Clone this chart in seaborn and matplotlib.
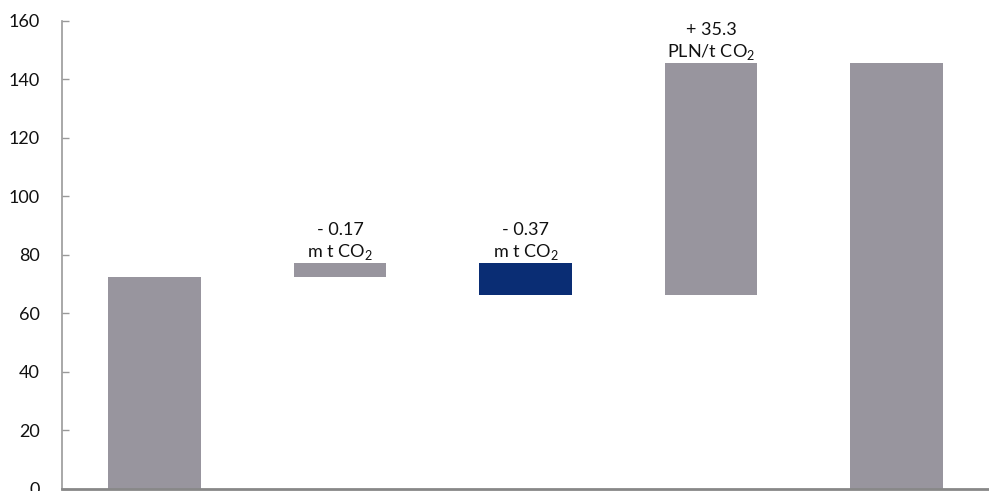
import matplotlib
matplotlib.use("Agg")
import matplotlib.pyplot as plt
import seaborn as sns
import pandas as pd

# Waterfall steps: start level, three changes, end level
steps = ["start", "volume A", "volume B", "price", "end"]
bar_bottom = [0.0, 72.3, 66.1, 66.1, 0.0]
bar_top = [72.3, 77.1, 77.1, 145.5, 145.5]
bar_colors = ["#98959e", "#98959e", "#0a2d74", "#98959e", "#98959e"]
step_labels = ["", "- 0.17\nm t CO$_\\mathregular{2}$", "- 0.37\nm t CO$_\\mathregular{2}$",
               "+ 35.3\nPLN/t CO$_\\mathregular{2}$", ""]
y_ticks = [0, 20, 40, 60, 80, 100, 120, 140, 160]

sns.set_theme(style="white")
plt.rcParams["font.family"] = ["Lato", "DejaVu Sans"]
plt.rcParams["mathtext.fontset"] = "custom"
plt.rcParams["mathtext.rm"] = "Lato"

df = pd.DataFrame({
    "step": steps,
    "bottom": bar_bottom,
    "height": [t - b for t, b in zip(bar_top, bar_bottom)],
})

fig = plt.figure(figsize=(9.89, 4.91), dpi=100)
ax = fig.add_axes([0.0627, 0.005, 0.9373, 0.953])

# one floating bar per step, each resting on its own base level
for i, row in df.iterrows():
    sns.barplot(data=df.iloc[[i]], x="step", y="height", order=steps,
                color=bar_colors[i], saturation=1, width=0.5,
                bottom=row["bottom"], linewidth=0, ax=ax)

for i, (top, lab) in enumerate(zip(bar_top, step_labels)):
    if lab:
        ax.annotate(lab, xy=(i, top), xytext=(0, 1), textcoords="offset points",
                    ha="center", va="bottom", fontsize=13, color="#111111",
                    linespacing=1.25)

ax.set_xlim(-0.5, 4.5)
ax.set_ylim(0, 160)
ax.set_yticks(y_ticks)
ax.set_yticklabels([str(v) for v in y_ticks])
ax.set_xticks([])
ax.set_xlabel("")
ax.set_ylabel("")
ax.tick_params(axis="y", direction="in", length=5, width=1, color="#999999",
               labelsize=13, labelcolor="#111111", pad=16, left=True)
for side in ("top", "right"):
    ax.spines[side].set_visible(False)
ax.spines["left"].set_color("#999999")
ax.spines["left"].set_linewidth(1.2)
ax.spines["bottom"].set_color("#888888")
ax.spines["bottom"].set_linewidth(2)

fig.savefig("out.png", dpi=100)
